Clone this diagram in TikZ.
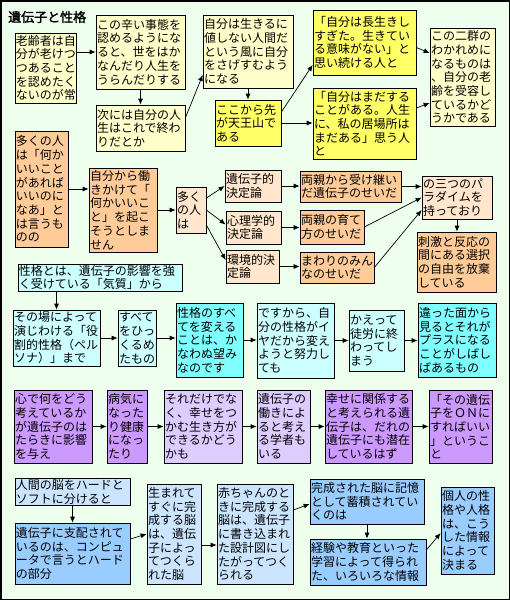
\documentclass[tikz,border=0pt]{standalone}
\usepackage{fontspec}
\setmainfont{Noto Sans CJK JP}[AutoFakeBold=2]
\usetikzlibrary{arrows.meta,calc}
\definecolor{bgc}{HTML}{EEFFEE}
\definecolor{lyel}{HTML}{FFFFCC}
\definecolor{yel}{HTML}{FFFF66}
\definecolor{ora}{HTML}{FFCC99}
\definecolor{pea}{HTML}{FFE6CC}
\definecolor{lcy}{HTML}{CCFFFF}
\definecolor{cya}{HTML}{80FFFF}
\definecolor{pur}{HTML}{CC99FF}
\definecolor{lav}{HTML}{DDCCFF}
\definecolor{blu}{HTML}{99CCFF}
\definecolor{lbl}{HTML}{CCE5FF}
\tikzset{
  box/.style={draw=black,line width=0.7pt,inner xsep=1pt,inner ysep=1pt,align=left,
    font=\fontsize{12pt}{13.7pt}\selectfont},
  conn/.style={line width=0.7pt,-{Latex[length=6pt,width=5pt]}}
}
\newcommand\bx[7]{%
  \pgfmathsetmacro\bxw{#4-#2}\pgfmathsetmacro\bxh{#5-#3}\pgfmathsetmacro\bxt{#4-#2-2}%
  \pgfmathsetmacro\bxx{(#2+#4)/2}\pgfmathsetmacro\bxy{(#3+#5)/2}%
  \node[box,fill=#6,minimum width=\bxw pt,minimum height=\bxh pt,text width=\bxt pt] (#1) at (\bxx,\bxy) {#7};}
\begin{document}
\begin{tikzpicture}[x=1pt,y=-1pt]
\useasboundingbox (0,0) rectangle (510,600);
\fill[bgc] (0,0) rectangle (510,600);
\draw[line width=1.5pt] (0.75,0.75) rectangle (509.25,599.25);
\node[font=\fontsize{13pt}{15pt}\selectfont\bfseries,anchor=west,inner sep=0pt] (title) at (8,17) {遺伝子と性格};
% row 1
\bx{A}{15}{33}{76}{103}{lyel}{老齢者は自\\分が老けつ\\つあること\\を認めたく\\ないのが常}
\bx{B}{96}{15}{185}{89}{lyel}{この辛い事態を\\認めるようにな\\ると、世をはか\\なんだり人生を\\うらんだりする}
\bx{C}{96}{105}{185}{151}{lyel}{次には自分の人\\生はこれで終わ\\りだとか}
\bx{D}{203}{15}{293}{88}{lyel}{自分は生きるに\\値しない人間だ\\という風に自分\\をさげすむよう\\になる}
\bx{E}{215}{100}{281}{146}{yel}{ここから先\\が天王山で\\ある}
\bx{F}{313}{10}{416}{75}{yel}{「自分は長生きし\\すぎた。生きてい\\る意味がない」と\\思い続ける人と}
\bx{G}{313}{88}{416}{159}{yel}{「自分はまだする\\ことがある。人生\\に、私の居場所は\\まだある」思う人\\と}
\bx{H}{430}{28}{495}{126}{lyel}{この二群の\\わかれめに\\なるものは\\、自分の老\\齢を受容し\\ているかど\\うかである}
% row 2
\bx{I}{15}{131}{68}{247}{ora}{多くの人\\は「何か\\いいこと\\があれば\\いいのに\\なあ」と\\は言うも\\のの}
\bx{J}{89}{168}{157}{252}{ora}{自分から働\\きかけて「\\何かいいこ\\と」を起こ\\そうとしま\\せん}
\bx{K}{176}{187}{206}{233}{pea}{多く\\の人\\は}
\bx{L1}{225}{170}{281}{202}{pea}{遺伝子的\\決定論}
\bx{L2}{226}{211}{281}{244}{pea}{心理学的\\決定論}
\bx{L3}{226}{250}{279}{283}{pea}{環境的決\\定論}
\bx{M1}{300}{171}{401}{202}{ora}{両親から受け継い\\だ遺伝子のせいだ}
\bx{M2}{300}{210}{364}{244}{ora}{両親の育て\\方のせいだ}
\bx{M3}{300}{252}{374}{283}{ora}{まわりのみん\\なのせいだ}
\bx{N}{422}{176}{492}{219}{pea}{の三つのパ\\ラダイムを\\持っており}
\bx{O}{417}{232}{496}{292}{ora}{刺激と反応の\\間にある選択\\の自由を放棄\\している}
% row 3
\bx{P}{18}{264}{182}{291}{lcy}{性格とは、遺伝子の影響を強\\く受けている「気質」から}
\bx{Q}{13}{310}{100}{366}{lcy}{その場によって\\演じわける「役\\割的性格（ペル\\ソナ）」まで}
\bx{R}{118}{310}{156}{366}{lcy}{すべて\\をひっ\\くるめ\\たもの}
\bx{S}{176}{303}{243}{377}{cya}{性格のすべ\\てを変える\\ことは、か\\なわぬ望み\\なのです}
\bx{T}{257}{303}{334}{378}{lcy}{ですから、自\\分の性格がイ\\ヤだから変え\\ようと努力し\\ても}
\bx{U}{349}{310}{404}{371}{lcy}{かえって\\徒労に終\\わってし\\まう}
\bx{V}{418}{303}{496}{377}{cya}{違った面から\\見るとそれが\\プラスになる\\ことがしばし\\ばあるもの}
% row 4
\bx{W}{14}{390}{92}{463}{pur}{心で何をどう\\考えているか\\が遺伝子のは\\たらきに影響\\を与え}
\bx{X}{107}{390}{147}{463}{pur}{病気に\\なった\\り健康\\になっ\\たり}
\bx{Y}{164}{390}{242}{463}{lav}{それだけでな\\く、幸せをつ\\かむ生き方が\\できるかどう\\かも}
\bx{Z}{257}{390}{310}{463}{lav}{遺伝子の\\働きによ\\ると考え\\る学者も\\いる}
\bx{AA}{325}{390}{412}{463}{pur}{幸せに関係する\\と考えられる遺\\伝子は、だれの\\遺伝子にも潜在\\しているはず}
\bx{AB}{429}{390}{492}{463}{pur}{「その遺伝\\子をＯＮに\\すればいい\\」というこ\\と}
% row 5
\bx{BA}{15}{479}{130}{505}{lbl}{人間の脳をハードと\\ソフトに分けると}
\bx{BB}{15}{523}{130}{584}{blu}{遺伝子に支配されて\\いるのは、コンピュ\\ータで言うとハード\\の部分}
\bx{BC}{147}{484}{201}{584}{lbl}{生まれて\\すぐに完\\成する脳\\は、遺伝\\子によっ\\てつくら\\れた脳}
\bx{BD}{217}{484}{293}{584}{lbl}{赤ちゃんのと\\きに完成する\\脳は、遺伝子\\に書き込まれ\\た設計図にし\\たがってつく\\られる}
\bx{BE}{310}{479}{424}{524}{blu}{完成された脳に記憶\\として蓄積されてい\\くのは}
\bx{BF}{310}{539}{426}{585}{blu}{経験や教育といった\\学習によって得られ\\た、いろいろな情報}
\bx{BG}{441}{487}{494}{574}{blu}{個人の性\\格や人格\\は、こう\\した情報\\によって\\決まる}
% connectors row 1
\draw[conn] (A.east |- B.west) -- (B.west);
\draw[conn] (B.south) -- (C.north);
\draw[conn] ([yshift=10pt]C.east) -- ([yshift=-23.5pt]D.west);
\draw[conn] (D.south) -- (E.north);
\draw[conn] ([yshift=11pt]E.east) -- ([yshift=-22.5pt]F.west);
\draw[conn] (E.east) -- (E.east -| G.west);
\draw[conn] ([yshift=-5pt]F.east) -- ([yshift=24pt]H.west);
\draw[conn] ([yshift=15.5pt]G.east) -- ([yshift=-26pt]H.west);
% row 2
\draw[conn] (I.east) -- (I.east -| J.west);
\draw[conn] (J.east) -- (J.east -| K.west);
\draw[conn] ([yshift=12pt]K.east) -- (L1.west);
\draw[conn] (K.east) -- ([yshift=3pt]L2.west);
\draw[conn] ([yshift=-15pt]K.east) -- ([yshift=6.5pt]L3.west);
\draw[conn] (L1.east) -- (L1.east -| M1.west);
\draw[conn] (L2.east) -- (L2.east -| M2.west);
\draw[conn] (L3.east) -- (L3.east -| M3.west);
\draw[conn] (M1.east) -- (M1.east -| N.west);
\draw[conn] (M2.east) -- (N.west);
\draw[conn] (M3.east) -- ([yshift=-12.5pt]N.west);
\draw[conn] (N.south) -- (N.south |- O.north);
% row 3
\draw[conn] (Q.north |- P.south) -- (Q.north);
\draw[conn] (Q.east) -- (Q.east -| R.west);
\draw[conn] (R.east) -- (R.east -| S.west);
\draw[conn] (S.east) -- (S.east -| T.west);
\draw[conn] (T.east) -- (T.east -| U.west);
\draw[conn] (U.east) -- (U.east -| V.west);
% row 4
\draw[conn] (W.east) -- (W.east -| X.west);
\draw[conn] (X.east) -- (X.east -| Y.west);
\draw[conn] (Y.east) -- (Y.east -| Z.west);
\draw[conn] (Z.east) -- (Z.east -| AA.west);
\draw[conn] (AA.east) -- (AA.east -| AB.west);
% row 5
\draw[conn] (BA.south) -- (BA.south |- BB.north);
\draw[conn] ([yshift=14.5pt]BB.east) -- (BC.west);
\draw[conn] ([yshift=-11pt]BC.east) -- ([yshift=-11pt]BD.west);
\draw[conn] ([yshift=24pt]BD.east) -- ([yshift=-2.5pt]BE.west);
\draw[conn] (BE.south) -- (BE.south |- BF.north);
\draw[conn] ([yshift=12pt]BF.east) -- ([yshift=-2.5pt]BG.west);
\end{tikzpicture}
\end{document}
